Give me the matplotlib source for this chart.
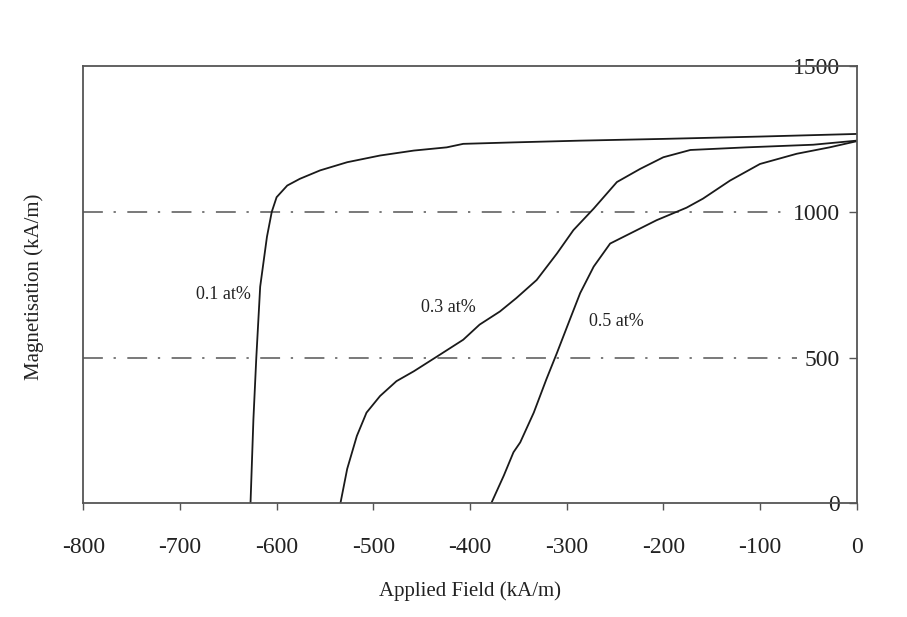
import matplotlib
matplotlib.use("Agg")
import matplotlib.pyplot as plt

# Applied field (kA/m) and magnetisation (kA/m)
h_01 = [-627, -624, -621, -617, -610, -605, -600, -589, -576, -555, -527,
        -493, -458, -424, -407, -355, -286, -200, -100, 0]
m_01 = [0, 288, 500, 743, 914, 1000, 1050, 1090, 1113, 1142, 1170,
        1193, 1210, 1221, 1233, 1238, 1244, 1250, 1258, 1267]

h_03 = [-534, -527, -517, -507, -493, -476, -458, -431, -407, -390, -369,
        -352, -331, -310, -293, -272, -248, -224, -200, -172, -114, -45, 0]
m_03 = [0, 118, 231, 311, 368, 419, 453, 510, 561, 613, 658,
        704, 766, 857, 937, 1011, 1102, 1147, 1187, 1212, 1221, 1230, 1244]

h_05 = [-378, -365, -355, -348, -334, -321, -310, -296, -286, -272, -255,
        -234, -207, -176, -159, -131, -100, -62, -28, 0]
m_05 = [0, 95, 175, 209, 311, 425, 516, 636, 721, 812, 891,
        926, 971, 1014, 1045, 1107, 1164, 1199, 1221, 1242]

curve_labels = ["0.1 at%", "0.3 at%", "0.5 at%"]
label_pos = [(-655, 715), (-422, 672), (-249, 622)]

ref_levels = [1000, 500]
ref_ends = [-78, -62]   # dash-dot lines stop short of the tick labels
x_ticks = [-800, -700, -600, -500, -400, -300, -200, -100, 0]
y_ticks = [0, 500, 1000, 1500]

plt.rcParams['font.family'] = ['Liberation Serif', 'DejaVu Serif']

fig = plt.figure(figsize=(9.07, 6.17), dpi=100)
ax = fig.add_axes([0.0918, 0.1843, 0.8527, 0.7087])

for level, end in zip(ref_levels, ref_ends):
    ax.plot([-800, end], [level, level], color='#555555', lw=1.1,
            dashes=(13, 7, 1.5, 7.5))

for h, m in [(h_01, m_01), (h_03, m_03), (h_05, m_05)]:
    ax.plot(h, m, color='#1a1a1a', lw=1.3)

for text, (x, y) in zip(curve_labels, label_pos):
    ax.text(x, y, text, fontsize=13, ha='center', va='center', color='#222222')

ax.set_xlim(-800, 0)
ax.set_ylim(0, 1500)

ax.set_xticks(x_ticks)
ax.set_xticklabels([str(v) for v in x_ticks])
ax.tick_params(axis='x', direction='out', length=5, width=1, color='#555555',
               labelsize=17, pad=19, labelcolor='#222222')

# y ticks live on the right spine, pointing in, labels inside the frame
ax.yaxis.tick_right()
ax.set_yticks(y_ticks)
ax.set_yticklabels([str(v) for v in y_ticks])
ax.tick_params(axis='y', direction='in', length=6, width=1, color='#555555',
               labelsize=17, pad=-12, labelcolor='#222222')
for lbl in ax.get_yticklabels():
    lbl.set_horizontalalignment('right')

for side in ['left', 'right', 'top', 'bottom']:
    ax.spines[side].set_color('#555555')
    ax.spines[side].set_linewidth(1.3)

ax.set_xlabel('Applied Field (kA/m)', fontsize=15, labelpad=17, color='#222222')
fig.text(0.038, 0.535, 'Magnetisation (kA/m)', rotation=90, fontsize=15,
         ha='center', va='center', color='#222222')

fig.savefig('out.png', dpi=100)
